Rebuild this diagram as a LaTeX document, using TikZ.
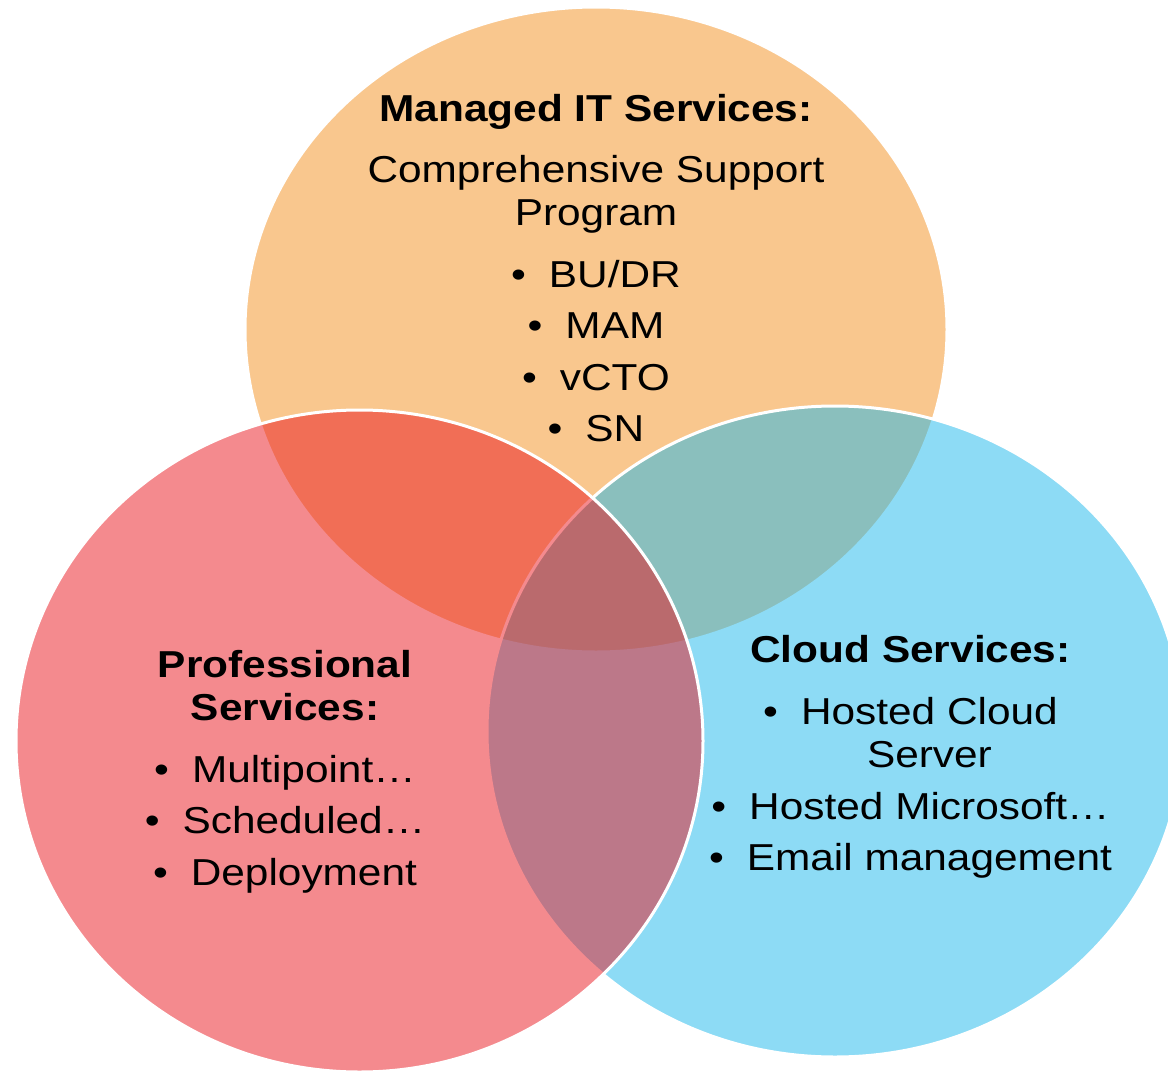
\documentclass[tikz,border=0pt]{standalone}
\usepackage{fontspec}
\setmainfont{Liberation Sans}[FakeStretch=1.13]
\usepackage{tikz}
\usetikzlibrary{positioning}
\usepackage{xcolor}

\definecolor{itorange}{RGB}{245,145,31}
\definecolor{cloudblue}{RGB}{29,185,237}
\definecolor{prored}{RGB}{235,23,31}

\newcommand{\bul}{•\hspace{23pt}}

\begin{document}
\begin{tikzpicture}[x=1pt, y=-1pt,
    venn/.style={fill opacity=0.5, draw=white, line width=3pt},
    txt/.style={font=\fontsize{37.5}{43.5}\selectfont, align=center, inner sep=0pt, anchor=base}]
    % Background
    \useasboundingbox (0,0) rectangle (1168,1074);
    \fill[white] (0,0) rectangle (1168,1074);
    
    % Circles
    \draw[venn, fill=itorange] (596,329.5) ellipse [x radius=351, y radius=322.5];
    \draw[venn, fill=cloudblue] (835,731.5) ellipse [x radius=348, y radius=325.5];
    \draw[venn, fill=prored] (359.5,741) ellipse [x radius=343.5, y radius=331];
    
    % Managed IT (anchored at the last line)
    \node[txt] (managed) at (596,441.5) {\textbf{Managed IT Services:}\\[17.5pt]
        Comprehensive Support\\ Program\\[18pt]
        \bul BU/DR\\[8pt] \bul MAM\\[8pt] \bul vCTO\\[8pt] \bul SN};
    
    % Professional
    \node[txt] (professional) at (285,885) {\textbf{Professional}\\ \textbf{Services:}\\[18pt]
        \bul Multipoint…\\[8pt] \bul Scheduled…\\[8pt] \bul Deployment};
    
    % Cloud
    \node[txt] (cloud) at (910.5,870.9) {\textbf{Cloud Services:}\\[18pt]
        \bul Hosted Cloud\\ \phantom{\bul}Server\\[8pt]
        \bul Hosted Microsoft…\\[8pt] \bul Email management};
    
\end{tikzpicture}
\end{document}
